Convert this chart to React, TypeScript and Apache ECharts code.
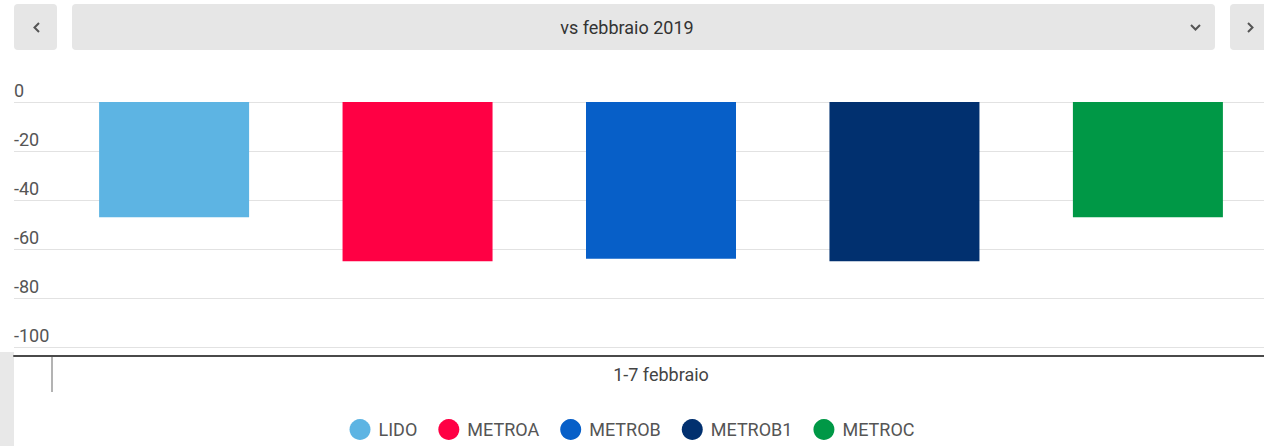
import React, { useEffect, useRef } from "react";
import * as echarts from "echarts";

const categories = ["1-7 febbraio"];
const seriesNames = ["LIDO", "METROA", "METROB", "METROB1", "METROC"];
const seriesValues = [[-47], [-65], [-64], [-65], [-47]];
const seriesColors = ["#5db4e3", "#ff0044", "#075fc8", "#01306f", "#009846"];
const yMin = -100;
const yMax = 0;
const yStep = 20;
const titleText = "vs febbraio 2019";

const FONT = "Roboto, 'Noto Sans', sans-serif";

export default function App() {
  const ref = useRef<HTMLDivElement>(null);
  useEffect(() => {
    if (!ref.current) return;
    const chart = echarts.init(ref.current, undefined, { renderer: "svg" });
    const option: any = {
      animation: false,
      textStyle: { fontFamily: FONT },
      grid: [
        { left: 14, right: 0, top: 102, height: 245 },
        { left: 58, right: 0, top: 102, height: 245 },
      ],
      xAxis: [
        {
          gridIndex: 0,
          type: "category",
          data: [""],
          offset: 9,
          axisLine: { show: true, onZero: false, lineStyle: { color: "#4a4a4a", width: 2 } },
          axisTick: { show: false },
          axisLabel: { show: false },
          splitLine: { show: false },
        },
        {
          gridIndex: 1,
          type: "category",
          data: categories,
          offset: 9,
          axisLine: { show: false, onZero: false },
          axisTick: { show: false },
          axisLabel: { color: "#444", fontSize: 18, margin: 9, fontFamily: FONT },
        },
      ],
      yAxis: [
        {
          gridIndex: 0,
          type: "value",
          min: yMin,
          max: yMax,
          interval: yStep,
          axisLine: { show: false },
          axisTick: { show: false },
          splitLine: { show: true, lineStyle: { color: "#e2e2e2", width: 1 } },
          axisLabel: {
            inside: true,
            margin: 0,
            color: "#555",
            fontSize: 18,
            verticalAlign: "bottom",
            padding: [0, 0, 3, 0],
            fontFamily: FONT,
          },
        },
        {
          gridIndex: 1,
          type: "value",
          min: yMin,
          max: yMax,
          interval: yStep,
          show: false,
          splitLine: { show: false },
        },
      ],
      legend: {
        data: seriesNames,
        bottom: 1,
        left: "center",
        icon: "circle",
        itemWidth: 21,
        itemHeight: 21,
        itemGap: 21,
        textStyle: { color: "#555", fontSize: 18, fontFamily: FONT, padding: [0, 0, 0, 3] },
      },
      series: seriesNames.map((name, i) => ({
        name,
        type: "bar",
        xAxisIndex: 1,
        yAxisIndex: 1,
        data: seriesValues[i],
        barWidth: 150,
        barGap: "62.3%",
        itemStyle: { color: seriesColors[i] },
      })),
      graphic: [
        { type: "rect", shape: { x: 0, y: 352, width: 14, height: 94 }, style: { fill: "#e8e8e8" }, silent: true },
        { type: "line", shape: { x1: 52, y1: 357, x2: 52, y2: 392 }, style: { stroke: "#9a9a9a", lineWidth: 1.5 }, silent: true },
        { type: "rect", shape: { x: 14, y: 4, width: 43, height: 46, r: 4 }, style: { fill: "#e6e6e6" } },
        { type: "rect", shape: { x: 72, y: 4, width: 1143, height: 46, r: 4 }, style: { fill: "#e6e6e6" } },
        { type: "rect", shape: { x: 1230, y: 4, width: 50, height: 46, r: 4 }, style: { fill: "#e6e6e6" } },
        {
          type: "polyline",
          shape: { points: [[39, 23], [34.5, 27.5], [39, 32]] },
          style: { stroke: "#555", lineWidth: 2, fill: "none" },
        },
        {
          type: "polyline",
          shape: { points: [[1191, 25], [1195.5, 29.5], [1200, 25]] },
          style: { stroke: "#555", lineWidth: 2, fill: "none" },
        },
        {
          type: "polyline",
          shape: { points: [[1248, 23], [1252.5, 27.5], [1248, 32]] },
          style: { stroke: "#555", lineWidth: 2, fill: "none" },
        },
        {
          type: "text",
          x: 627,
          y: 27,
          style: {
            text: titleText,
            fill: "#333",
            fontSize: 18,
            fontFamily: FONT,
            textAlign: "center",
            textVerticalAlign: "middle",
          },
        },
      ],
    };
    chart.setOption(option);
    return () => chart.dispose();
  }, []);
  return (
    <div
      ref={ref}
      style={{ position: "fixed", left: 0, top: 0, width: 1264, height: 446, background: "#fff" }}
    />
  );
}
